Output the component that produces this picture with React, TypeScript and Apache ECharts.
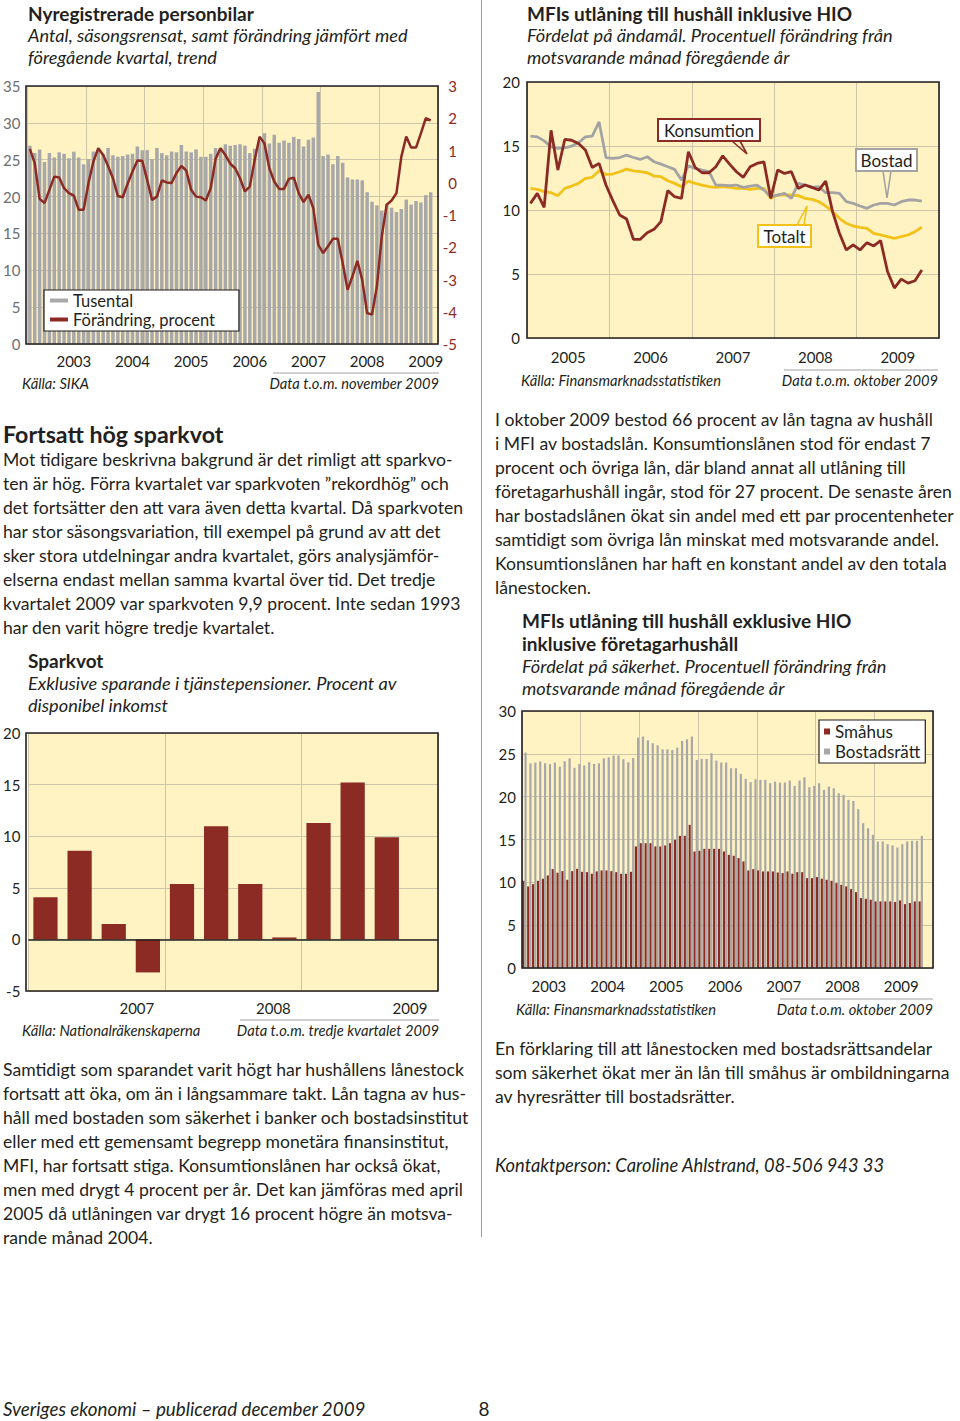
import React, { useEffect, useRef } from "react";
import * as echarts from "echarts";

const FONT = 'Lato, "Noto Sans", sans-serif';
const INK = "#231f20";
const RED = "#8c2b24";
const GRAY_BAR = "#a8a8a8";
const GRAY_LINE = "#a3a3a3";
const YELLOW = "#f2c21b";
const BG = "#fff3c4";
const GRID = "#cdc6a9";

// ---------- Chart 1: Nyregistrerade personbilar ----------
const regYears = ["2003", "2004", "2005", "2006", "2007", "2008", "2009"];
const regCars = [
  26.9, 25.9, 26.4, 24.7, 25.9, 25.3, 26.0, 25.8, 25.2, 26.1, 25.3, 24.4,
  25.1, 26.1, 26.4, 25.8, 26.6, 25.6, 25.4, 25.5, 25.7, 25.8, 26.8, 26.3,
  26.3, 25.1, 26.6, 25.9, 25.6, 26.1, 26.0, 27.0, 26.1, 26.0, 26.4, 25.4,
  25.4, 25.8, 26.6, 26.6, 27.1, 26.9, 27.0, 27.1, 26.9, 25.9, 26.5, 27.5,
  28.6, 27.2, 28.4, 27.3, 27.6, 27.3, 28.1, 27.8, 26.8, 27.7, 28.0, 34.2,
  25.5, 25.7, 24.4, 25.5, 24.6, 22.6, 22.3, 22.3, 22.2, 20.6, 19.3, 18.8,
  18.1, 19.0, 18.5, 17.9, 18.3, 19.6, 18.9, 19.4, 19.2, 20.2, 20.6,
];
const regChange = [
  1.05, 0.61, -0.5, -0.63, -0.22, 0.19, 0.16, -0.17, -0.32, -0.4, -0.84, -0.84,
  -0.01, 0.66, 1.07, 0.86, 0.52, 0.14, -0.41, -0.45, -0.03, 0.35, 0.69, 0.68,
  0.09, -0.53, -0.43, 0.07, 0.01, -0.01, 0.3, 0.52, 0.38, -0.22, -0.43, -0.45,
  -0.55, -0.17, 0.74, 1.07, 0.86, 0.59, 0.45, 0.14, -0.27, -0.12, 0.71, 1.43,
  1.22, 0.45, 0.04, -0.19, -0.19, 0.12, 0.16, -0.32, -0.6, -0.37, -0.79, -1.92,
  -2.18, -1.97, -1.74, -1.74, -2.49, -3.32, -2.9, -2.42, -3.01, -4.04, -4.09, -3.21,
  -1.66, -0.68, -0.55, -0.32, 0.81, 1.43, 1.09, 1.09, 1.53, 2.0, 1.93,
];

// ---------- Chart 2: MFIs utlåning inkl. HIO ----------
const mfiYears = ["2005", "2006", "2007", "2008", "2009"];
const konsumtion = [
  10.52, 11.3, 10.21, 16.23, 13.12, 15.51, 15.45, 15.19, 14.68, 13.32, 13.64, 11.95,
  10.73, 9.61, 9.3, 7.71, 7.71, 8.23, 8.49, 9.09, 11.51, 11.04, 10.91, 14.55,
  13.32, 12.91, 12.91, 13.38, 14.23, 13.58, 12.99, 12.55, 13.38, 13.64, 13.77, 10.91,
  13.12, 12.86, 12.99, 11.69, 11.95, 11.77, 11.56, 12.26, 9.87, 8.18, 6.88, 7.27,
  6.88, 7.45, 7.19, 7.61, 5.19, 3.9, 4.6, 4.29, 4.47, 5.32,
];
const bostad = [
  15.77, 15.71, 15.4, 14.94, 14.81, 14.86, 14.99, 15.25, 15.71, 15.77, 16.88, 14.1,
  14.03, 14.1, 14.29, 14.1, 13.95, 14.16, 13.77, 13.58, 13.38, 13.17, 12.34, 13.45,
  13.25, 13.12, 12.99, 11.95, 11.95, 11.9, 11.95, 11.77, 11.87, 11.95, 11.56, 11.04,
  11.17, 11.3, 10.91, 12.08, 11.95, 11.77, 11.82, 11.35, 11.35, 11.3, 10.65, 10.52,
  10.31, 10.13, 10.39, 10.52, 10.52, 10.39, 10.65, 10.78, 10.78, 10.7,
];
const totalt = [
  11.69, 11.61, 11.43, 11.35, 11.12, 11.69, 11.87, 12.08, 12.47, 12.55, 13.06, 12.78,
  12.81, 12.99, 13.19, 13.06, 12.99, 12.91, 12.65, 12.6, 12.29, 12.08, 11.82, 12.26,
  12.08, 11.95, 11.82, 11.77, 11.82, 11.77, 11.69, 11.69, 11.61, 11.69, 11.69, 10.91,
  11.17, 11.17, 11.17, 11.12, 10.91, 10.83, 10.65, 10.31, 9.87, 9.35, 8.96, 8.75,
  8.65, 8.57, 8.18, 8.05, 7.92, 7.79, 7.92, 8.05, 8.31, 8.65,
];

// ---------- Chart 3: Sparkvot ----------
const saveYears = ["2007", "2008", "2009"];
const saveQuarters = ["K1", "K2", "K3", "K4"];
const sparkvot = [4.08, 8.58, 1.49, -3.2, 5.37, 10.97, 5.37, 0.19, 11.29, 15.21, 9.9, null];

// ---------- Chart 4: MFIs utlåning exkl. HIO ----------
const secYears = ["2003", "2004", "2005", "2006", "2007", "2008", "2009"];
const smahus = [
  10.18, 9.52, 9.79, 10.18, 10.42, 10.8, 11.54, 11.12, 11.31, 10.3, 11.31, 11.58,
  11.23, 11.19, 11.0, 11.27, 11.39, 11.39, 11.31, 11.19, 11.0, 11.0, 11.23, 14.19,
  14.57, 14.57, 14.57, 14.19, 14.19, 14.3, 14.57, 14.96, 15.43, 15.43, 16.71, 13.6,
  13.68, 13.91, 13.91, 13.91, 13.9, 13.6, 13.21, 13.1, 12.83, 12.44, 11.39, 11.54,
  11.39, 11.27, 11.27, 11.27, 11.15, 11.08, 11.27, 11.0, 11.19, 11.19, 10.49, 10.49,
  10.61, 10.42, 10.3, 10.18, 9.91, 9.72, 9.52, 9.21, 8.86, 8.16, 8.08, 7.97,
  7.77, 7.77, 7.77, 7.77, 7.7, 7.89, 7.46, 7.58, 7.77, 7.77,
];
const bostadsratt = [
  25.15, 23.9, 23.98, 24.1, 23.9, 23.79, 23.98, 23.51, 24.14, 24.48, 23.36, 23.82,
  23.63, 24.02, 23.82, 23.9, 24.48, 24.6, 24.8, 24.8, 24.37, 24.02, 24.52, 26.89,
  27.02, 26.58, 26.24, 26.0, 25.53, 25.53, 25.45, 25.73, 26.51, 26.7, 27.02, 24.29,
  24.41, 24.41, 25.07, 24.21, 23.98, 23.98, 23.32, 23.32, 22.66, 22.08, 21.69, 22.04,
  21.96, 21.96, 21.57, 21.76, 21.65, 21.65, 21.88, 21.26, 21.88, 22.27, 21.1, 21.26,
  21.57, 20.79, 21.18, 20.99, 20.4, 20.21, 19.63, 19.51, 18.54, 16.91, 16.32, 15.55,
  14.77, 14.77, 14.46, 14.3, 14.07, 14.46, 14.77, 14.85, 14.85, 15.43,
];

// ---------- Texts ----------
const para1 = [
  "Mot tidigare beskrivna bakgrund är det rimligt att sparkvo-",
  "ten är hög. Förra kvartalet var sparkvoten ”rekordhög” och",
  "det fortsätter den att vara även detta kvartal. Då sparkvoten",
  "har stor säsongsvariation, till exempel på grund av att det",
  "sker stora utdelningar andra kvartalet, görs analysjämför-",
  "elserna endast mellan samma kvartal över tid. Det tredje",
  "kvartalet 2009 var sparkvoten 9,9 procent. Inte sedan 1993",
  "har den varit högre tredje kvartalet.",
];
const para2 = [
  "Samtidigt som sparandet varit högt har hushållens lånestock",
  "fortsatt att öka, om än i långsammare takt. Lån tagna av hus-",
  "håll med bostaden som säkerhet i banker och bostadsinstitut",
  "eller med ett gemensamt begrepp monetära finansinstitut,",
  "MFI, har fortsatt stiga. Konsumtionslånen har också ökat,",
  "men med drygt 4 procent per år. Det kan jämföras med april",
  "2005 då utlåningen var drygt 16 procent högre än motsva-",
  "rande månad 2004.",
];
const para3 = [
  "I oktober 2009 bestod 66 procent av lån tagna av hushåll",
  "i MFI av bostadslån. Konsumtionslånen stod för endast 7",
  "procent och övriga lån, där bland annat all utlåning till",
  "företagarhushåll ingår, stod för 27 procent. De senaste åren",
  "har bostadslånen ökat sin andel med ett par procentenheter",
  "samtidigt som övriga lån minskat med motsvarande andel.",
  "Konsumtionslånen har haft en konstant andel av den totala",
  "lånestocken.",
];
const para4 = [
  "En förklaring till att lånestocken med bostadsrättsandelar",
  "som säkerhet ökat mer än lån till småhus är ombildningarna",
  "av hyresrätter till bostadsrätter.",
];

const monthsOf = (years: string[]) =>
  years.flatMap((y) => Array.from({ length: 12 }, (_, m) => `${y}-${String(m + 1).padStart(2, "0")}`));
const regMonths = monthsOf(regYears);
const mfiMonths = monthsOf(mfiYears);
const secMonths = monthsOf(secYears);
const quarters = saveYears.flatMap((y) => saveQuarters.map((q) => `${y} ${q}`));

const G1 = { left: 26, top: 86, width: 412, height: 258 };
const G2 = { left: 527, top: 82, width: 412, height: 256 };
const G3 = { left: 26, top: 733, width: 412, height: 258 };
const G4 = { left: 522, top: 711, width: 411, height: 257 };

const BODY = 17.6;
const SUB = 18.2;
const HEAD = 19;
const SRC = 14.7;
const LH = 24;

function txt(text: string, x: number, y: number, o: any = {}) {
  return {
    type: "text",
    x,
    y,
    z: o.z || 20,
    silent: true,
    style: {
      text,
      fill: o.fill || INK,
      fontFamily: FONT,
      fontSize: o.size || BODY,
      fontWeight: o.bold ? "bold" : "normal",
      fontStyle: o.italic ? "italic" : "normal",
      align: o.align || "left",
      verticalAlign: "middle",
    },
  };
}
function hline(x1: number, x2: number, y: number, color = "#a0a0a0", w = 1) {
  return { type: "line", z: 20, silent: true, shape: { x1, y1: y, x2, y2: y }, style: { stroke: color, lineWidth: w } };
}
function frame(g: any) {
  return {
    type: "rect",
    z: 50,
    silent: true,
    shape: { x: g.left, y: g.top, width: g.width, height: g.height },
    style: { fill: "none", stroke: INK, lineWidth: 1.6 },
  };
}
function callout(label: string, x: number, y: number, w: number, color: string, ptr: number[][]) {
  return [
    { type: "rect", z: 30, silent: true, shape: { x, y, width: w, height: 22 }, style: { fill: "#fff", stroke: color, lineWidth: 2 } },
    { type: "polyline", z: 31, silent: true, shape: { points: ptr }, style: { stroke: color, lineWidth: 1.6, fill: "none" } },
    txt(label, x + w / 2, y + 11.5, { align: "center", size: 17, z: 40 }),
  ];
}

const axisLabelBase = { fontFamily: FONT, fontSize: 15, color: INK };
const noLine = { show: false };

function buildOption() {
  const graphics: any[] = [];
  // Left column
  graphics.push(txt("Nyregistrerade personbilar", 28, 13, { bold: true, size: HEAD }));
  graphics.push(txt("Antal, säsongsrensat, samt förändring jämfört med", 28, 35, { italic: true, size: SUB }));
  graphics.push(txt("föregående kvartal, trend", 28, 57, { italic: true, size: SUB }));
  graphics.push(txt("Källa: SIKA", 22, 383, { italic: true, size: SRC }));
  graphics.push(txt("Data t.o.m. november 2009", 439, 383, { italic: true, size: SRC, align: "right" }));
  graphics.push(hline(273, 439, 373));
  graphics.push(txt("Fortsatt hög sparkvot", 3, 434, { bold: true, size: 23.2 }));
  para1.forEach((l, i) => graphics.push(txt(l, 3, 459 + i * LH)));
  graphics.push(txt("Sparkvot", 28, 660, { bold: true, size: HEAD }));
  graphics.push(txt("Exklusive sparande i tjänstepensioner. Procent av", 28, 683, { italic: true, size: SUB }));
  graphics.push(txt("disponibel inkomst", 28, 705, { italic: true, size: SUB }));
  graphics.push(txt("Källa: Nationalräkenskaperna", 22, 1030, { italic: true, size: SRC }));
  graphics.push(txt("Data t.o.m. tredje kvartalet 2009", 439, 1030, { italic: true, size: SRC, align: "right" }));
  graphics.push(hline(240, 439, 1020));
  para2.forEach((l, i) => graphics.push(txt(l, 3, 1069 + i * LH)));
  graphics.push(txt("Sveriges ekonomi – publicerad december 2009", 3, 1408, { italic: true, size: 18.8 }));
  graphics.push(txt("8", 484, 1408, { size: 19, align: "center" }));

  // Right column
  graphics.push(txt("MFIs utlåning till hushåll inklusive HIO", 527, 13, { bold: true, size: HEAD }));
  graphics.push(txt("Fördelat på ändamål. Procentuell förändring från", 527, 35, { italic: true, size: SUB }));
  graphics.push(txt("motsvarande månad föregående år", 527, 57, { italic: true, size: SUB }));
  graphics.push(txt("Källa: Finansmarknadsstatistiken", 521, 380, { italic: true, size: SRC }));
  graphics.push(txt("Data t.o.m. oktober 2009", 938, 380, { italic: true, size: SRC, align: "right" }));
  graphics.push(hline(784, 938, 370));
  para3.forEach((l, i) => graphics.push(txt(l, 495, 419 + i * LH)));
  graphics.push(txt("MFIs utlåning till hushåll exklusive HIO", 522, 620, { bold: true, size: HEAD }));
  graphics.push(txt("inklusive företagarhushåll", 522, 643, { bold: true, size: HEAD }));
  graphics.push(txt("Fördelat på säkerhet. Procentuell förändring från", 522, 666, { italic: true, size: SUB }));
  graphics.push(txt("motsvarande månad föregående år", 522, 688, { italic: true, size: SUB }));
  graphics.push(txt("Källa: Finansmarknadsstatistiken", 516, 1009, { italic: true, size: SRC }));
  graphics.push(txt("Data t.o.m. oktober 2009", 933, 1009, { italic: true, size: SRC, align: "right" }));
  graphics.push(hline(780, 933, 999));
  para4.forEach((l, i) => graphics.push(txt(l, 495, 1048 + i * LH)));
  graphics.push(txt("Kontaktperson: Caroline Ahlstrand, 08-506 943 33", 495, 1165, { italic: true, size: 18.3 }));

  // Divider
  graphics.push({ type: "line", z: 20, silent: true, shape: { x1: 481.5, y1: 0, x2: 481.5, y2: 1237 }, style: { stroke: "#9a9a9a", lineWidth: 1 } });

  // Frames
  [G1, G2, G3, G4].forEach((g) => graphics.push(frame(g)));

  // Callouts chart 2
  graphics.push(...callout("Konsumtion", 658, 119, 102, RED, [[732, 141], [747, 154], [740, 141]]));
  graphics.push(...callout("Bostad", 856, 149, 61, GRAY_LINE, [[883, 171], [887, 198], [891, 171]]));
  graphics.push(...callout("Totalt", 758, 225, 53, YELLOW, [[797, 225], [807, 206], [804, 225]]));

  const catAxis = (gridIndex: number, data: string[], extra: any = {}) => ({
    type: "category",
    gridIndex,
    position: "bottom",
    data,
    boundaryGap: true,
    axisLine: noLine,
    axisTick: noLine,
    splitLine: noLine,
    axisLabel: { show: false },
    ...extra,
  });
  const yearAxis = (gridIndex: number, data: string[], label: any = { show: false }) =>
    catAxis(gridIndex, data, {
      splitLine: { show: true, interval: 0, lineStyle: { color: GRID, width: 1 } },
      axisLabel: label,
    });
  const valAxis = (gridIndex: number, min: number, max: number, interval: number, extra: any = {}) => ({
    type: "value",
    gridIndex,
    min,
    max,
    interval,
    axisLine: noLine,
    axisTick: noLine,
    splitLine: { show: true, lineStyle: { color: GRID, width: 1 } },
    ...extra,
  });

  return {
    animation: false,
    textStyle: { fontFamily: FONT },
    grid: [G1, G2, G3, G4].map((g) => ({ ...g, show: true, backgroundColor: BG, borderWidth: 0 })),
    xAxis: [
      // 0,1 chart 1
      catAxis(0, regMonths, {
        axisLabel: { ...axisLabelBase, margin: 9, interval: (i: number) => i % 12 === 9, formatter: (v: string) => v.slice(0, 4) },
      }),
      yearAxis(0, regYears),
      // 2,3 chart 2
      catAxis(1, mfiMonths),
      yearAxis(1, mfiYears, { ...axisLabelBase, margin: 11, interval: 0 }),
      // 4,5 chart 3
      catAxis(2, quarters, {
        axisLabel: {
          ...axisLabelBase,
          margin: 9,
          interval: (i: number) => i % 4 === 3,
          formatter: (v: string) => v.slice(0, 4),
          padding: [0, 22, 0, 0],
        },
      }),
      yearAxis(2, saveYears),
      // 6,7 chart 4
      catAxis(3, secMonths, {
        axisLabel: { ...axisLabelBase, margin: 10, interval: (i: number) => i % 12 === 5, formatter: (v: string) => v.slice(0, 4) },
      }),
      yearAxis(3, secYears),
    ],
    yAxis: [
      valAxis(0, 0, 35, 5, { position: "left", axisLabel: { ...axisLabelBase, color: "#6d6e71", margin: 7 } }),
      valAxis(0, -5, 3, 1, {
        position: "right",
        splitLine: noLine,
        axisLabel: { ...axisLabelBase, color: RED, margin: 19, align: "right" },
      }),
      valAxis(1, 0, 20, 5, { axisLabel: { ...axisLabelBase, margin: 7 } }),
      valAxis(2, -5, 20, 5, { axisLabel: { ...axisLabelBase, margin: 8 } }),
      valAxis(3, 0, 30, 5, { axisLabel: { ...axisLabelBase, margin: 6 } }),
    ],
    legend: [
      {
        data: [
          { name: "Tusental", icon: "rect" },
          { name: "Förändring, procent", icon: "rect" },
        ],
        left: 44,
        top: 290,
        orient: "vertical",
        itemWidth: 18,
        itemHeight: 4,
        itemGap: 0,
        padding: [1, 24, 2, 6],
        backgroundColor: "#fff",
        borderColor: INK,
        borderWidth: 1.2,
        selectedMode: false,
        textStyle: { fontFamily: FONT, fontSize: 16.5, color: INK, lineHeight: 19 },
      },
      {
        data: [
          { name: "Småhus", icon: "rect" },
          { name: "Bostadsrätt", icon: "rect" },
        ],
        left: 819,
        top: 720,
        orient: "vertical",
        itemWidth: 6,
        itemHeight: 6,
        itemGap: 1,
        padding: [2, 5, 2, 5],
        backgroundColor: "#fff",
        borderColor: INK,
        borderWidth: 1.2,
        selectedMode: false,
        textStyle: { fontFamily: FONT, fontSize: 17, color: INK, lineHeight: 19 },
      },
    ],
    series: [
      {
        name: "Tusental",
        type: "bar",
        xAxisIndex: 0,
        yAxisIndex: 0,
        data: regCars,
        barCategoryGap: "28%",
        itemStyle: { color: GRAY_BAR },
      },
      {
        name: "Förändring, procent",
        type: "line",
        xAxisIndex: 0,
        yAxisIndex: 1,
        data: regChange,
        symbol: "none",
        lineStyle: { color: RED, width: 2.5 },
        itemStyle: { color: RED },
        z: 3,
      },
      {
        name: "Totalt",
        type: "line",
        xAxisIndex: 2,
        yAxisIndex: 2,
        data: totalt,
        symbol: "none",
        lineStyle: { color: YELLOW, width: 2.8 },
        itemStyle: { color: YELLOW },
      },
      {
        name: "Bostad",
        type: "line",
        xAxisIndex: 2,
        yAxisIndex: 2,
        data: bostad,
        symbol: "none",
        lineStyle: { color: GRAY_LINE, width: 2.8 },
        itemStyle: { color: GRAY_LINE },
      },
      {
        name: "Konsumtion",
        type: "line",
        xAxisIndex: 2,
        yAxisIndex: 2,
        data: konsumtion,
        symbol: "none",
        lineStyle: { color: RED, width: 2.8 },
        itemStyle: { color: RED },
      },
      {
        name: "Sparkvot",
        type: "bar",
        xAxisIndex: 4,
        yAxisIndex: 3,
        data: sparkvot,
        barCategoryGap: "29%",
        itemStyle: { color: RED },
        markLine: {
          silent: true,
          symbol: "none",
          label: { show: false },
          lineStyle: { color: INK, width: 1.6, type: "solid" },
          data: [{ yAxis: 0 }],
        },
      },
      {
        name: "Småhus",
        type: "bar",
        xAxisIndex: 6,
        yAxisIndex: 4,
        data: smahus,
        barGap: "0%",
        barCategoryGap: "10%",
        itemStyle: { color: RED },
      },
      {
        name: "Bostadsrätt",
        type: "bar",
        xAxisIndex: 6,
        yAxisIndex: 4,
        data: bostadsratt,
        barGap: "0%",
        barCategoryGap: "10%",
        itemStyle: { color: GRAY_BAR },
      },
    ],
    graphic: graphics,
  };
}

export default function App() {
  const ref = useRef<HTMLDivElement>(null);
  useEffect(() => {
    document.body.style.margin = "0";
    const chart = echarts.init(ref.current!, null, { renderer: "svg" });
    chart.setOption(buildOption() as any);
    return () => chart.dispose();
  }, []);
  return <div ref={ref} style={{ width: 960, height: 1421 }} />;
}
